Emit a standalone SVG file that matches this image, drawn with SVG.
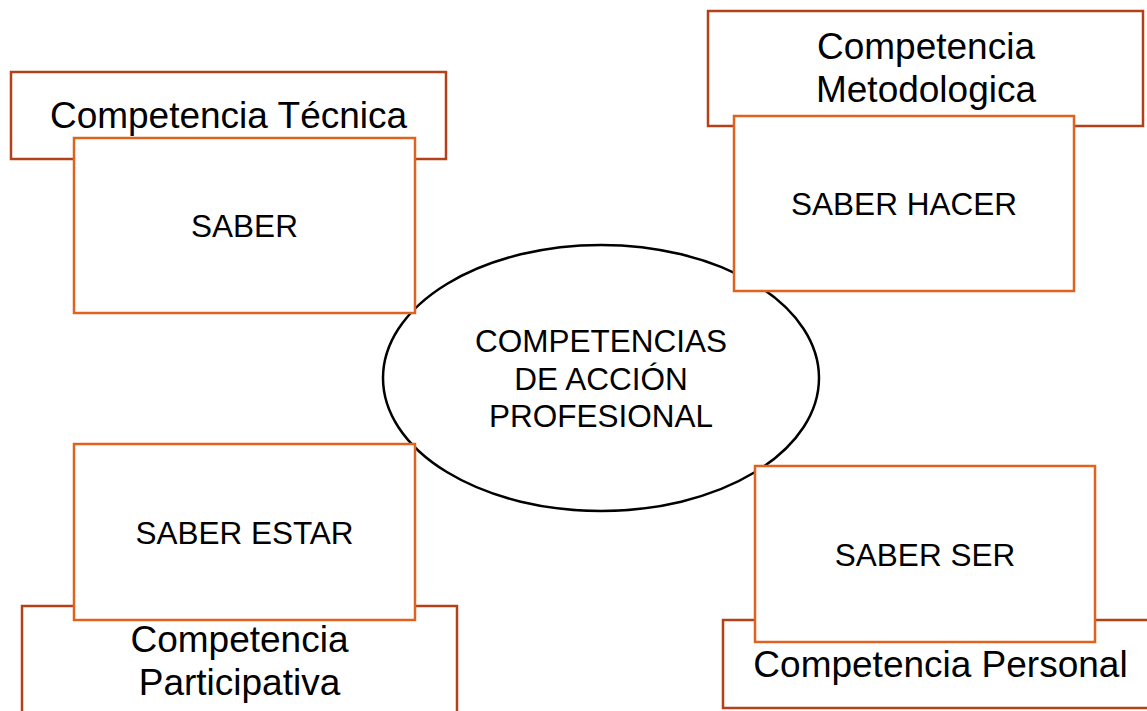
<svg xmlns="http://www.w3.org/2000/svg" width="1147" height="711" viewBox="0 0 1147 711">
<style>
.outer{fill:#fff;stroke:#b3401b;stroke-width:2.5}
.inner{fill:#fff;stroke:#e0621f;stroke-width:2.5}
.big{font-family:"Liberation Sans",Arial,sans-serif;font-size:37px;fill:#000;text-anchor:middle}
.small{font-family:"Liberation Sans",Arial,sans-serif;font-size:31.5px;fill:#000;text-anchor:middle}
</style>
<rect width="1147" height="711" fill="#fff"/>
<g id="center">
<ellipse cx="601" cy="378" rx="218" ry="133" fill="#fff" stroke="#000" stroke-width="2.5"/>
<text class="small" x="601" y="352">COMPETENCIAS</text>
<text class="small" x="601" y="390">DE ACCIÓN</text>
<text class="small" x="601" y="427">PROFESIONAL</text>
</g>
<g id="comp-tecnica">
<rect class="outer" x="11" y="72" width="435" height="87"/>
<text class="big" x="228.5" y="128">Competencia Técnica</text>
</g>
<g id="comp-metodologica">
<rect class="outer" x="708" y="11" width="435" height="115"/>
<text class="big" x="926" y="59">Competencia</text>
<text class="big" x="926" y="102">Metodologica</text>
</g>
<g id="comp-participativa">
<rect class="outer" x="22" y="606" width="435" height="115"/>
<text class="big" x="239.5" y="652">Competencia</text>
<text class="big" x="239.5" y="695">Participativa</text>
</g>
<g id="comp-personal">
<rect class="outer" x="723" y="620" width="435" height="88"/>
<text class="big" x="940.5" y="677">Competencia Personal</text>
</g>
<g id="saber">
<rect class="inner" x="74" y="138" width="341" height="175"/>
<text class="small" x="244.5" y="237">SABER</text>
</g>
<g id="saber-hacer">
<rect class="inner" x="734" y="116" width="340" height="175"/>
<text class="small" x="904" y="215">SABER HACER</text>
</g>
<g id="saber-estar">
<rect class="inner" x="74" y="444" width="341" height="176"/>
<text class="small" x="244.5" y="544">SABER ESTAR</text>
</g>
<g id="saber-ser">
<rect class="inner" x="755" y="466" width="340" height="176"/>
<text class="small" x="925" y="566">SABER SER</text>
</g>
<g id="connectors"></g>
</svg>
